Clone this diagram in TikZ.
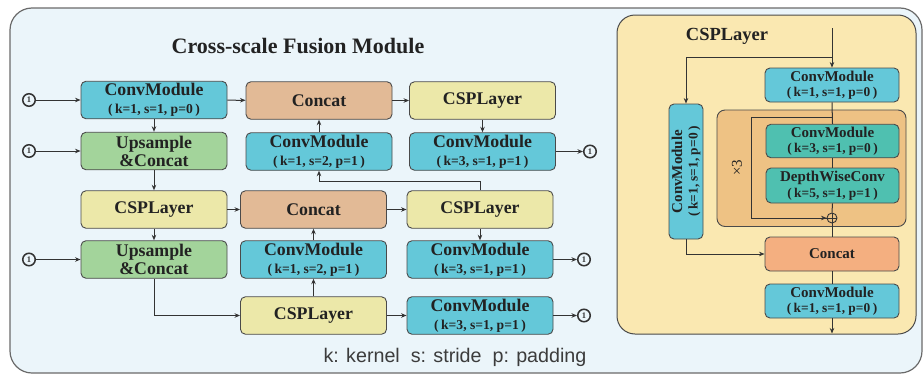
\documentclass[tikz,border=0pt]{standalone}
\usepackage{fontspec}
\setmainfont{Liberation Serif}
\newfontfamily\capfont{Liberation Sans}
\usetikzlibrary{arrows.meta}
\definecolor{bgblue}{HTML}{EBF5FA}
\definecolor{framegray}{HTML}{6A6A6A}
\definecolor{bordergray}{HTML}{4A4A4A}
\definecolor{linegray}{HTML}{333333}
\definecolor{txt}{HTML}{222222}
\definecolor{cyanbox}{HTML}{64C8D9}
\definecolor{greenbox}{HTML}{A3D49B}
\definecolor{yellowbox}{HTML}{ECE8A9}
\definecolor{tanbox}{HTML}{E2BA96}
\definecolor{panelyellow}{HTML}{FAE8B1}
\definecolor{orangeblock}{HTML}{EEC284}
\definecolor{tealbox}{HTML}{4FC0B0}
\definecolor{salmonbox}{HTML}{F4AF80}
\definecolor{captxt}{HTML}{3C3C3C}
\newcommand{\prm}[1]{{\fontsize{13.6}{18}\selectfont(\hspace{2.5pt}#1\hspace{2.5pt})}}
\newcommand{\prms}[1]{{\fontsize{13.4}{15.5}\selectfont(\hspace{2.5pt}#1\hspace{2.5pt})}}
\tikzset{
  basebox/.style={draw=bordergray, line width=0.9pt, rounded corners=5pt, align=center,
    inner sep=0pt, text=txt, minimum width=146pt, minimum height=37.5pt,
    font=\bfseries\fontsize{17.8}{18}\selectfont},
  convbox/.style={basebox, fill=cyanbox},
  upsbox/.style={basebox, fill=greenbox},
  cspbox/.style={basebox, fill=yellowbox},
  catbox/.style={basebox, fill=tanbox},
  rbox/.style={draw=bordergray, line width=0.9pt, rounded corners=5pt, align=center,
    inner sep=0pt, text=txt, minimum width=134pt, minimum height=34pt,
    font=\bfseries\fontsize{15}{15.5}\selectfont},
  iocirc/.style={circle, draw=linegray, line width=1.5pt, inner sep=0pt, minimum size=12.5pt,
    font=\bfseries\fontsize{8.5}{8.5}\selectfont, text=linegray},
  conn/.style={draw=linegray, line width=1pt},
  arr/.style={conn, -{Stealth[length=5.5pt,width=4.5pt]}},
}
\begin{document}
\begin{tikzpicture}[x=1pt,y=-1pt]
\useasboundingbox (0,0) rectangle (924,375);
% outer frame
\draw[fill=bgblue, draw=framegray, line width=1.2pt, rounded corners=22pt] (10,8) rectangle (922,373);
% right panel
\draw[fill=panelyellow, draw=bordergray, line width=1pt, rounded corners=18pt] (617,15) rectangle (916,334);

% title
\node[font=\bfseries\fontsize{22}{24}\selectfont, text=txt] (title) at (298,46) {Cross-scale Fusion Module};

% left column
\node[convbox] (cm1) at (154,100) {ConvModule\\\prm{k=1, s=1, p=0}};
\node[upsbox] (up1) at (154,151) {Upsample\\\&Concat};
\node[cspbox] (csp1) at (154,209.5) {CSPLayer};
\node[upsbox] (up2) at (154,259.5) {Upsample\\\&Concat};

% second column top
\node[catbox] (cat1) at (319,100.5) {Concat};
\node[convbox] (cm2) at (319,151.5) {ConvModule\\\prm{k=1, s=2, p=1}};
% second column lower
\node[catbox] (cat2) at (313.5,209.5) {Concat};
\node[convbox] (cm3) at (313.5,259.5) {ConvModule\\\prm{k=1, s=2, p=1}};
\node[cspbox] (csp3) at (313.5,315.5) {CSPLayer};

% third column
\node[cspbox] (csp2) at (482.5,100.5) {CSPLayer};
\node[convbox] (cm4) at (482.5,151.5) {ConvModule\\\prm{k=3, s=1, p=1}};
\node[cspbox] (csp4) at (480,209.5) {CSPLayer};
\node[convbox] (cm5) at (480,259.5) {ConvModule\\\prm{k=3, s=1, p=1}};
\node[convbox] (cm6) at (480,315.5) {ConvModule\\\prm{k=3, s=1, p=1}};

% inputs / outputs
\node[iocirc] (in1) at (29,100) {1};
\node[iocirc] (in2) at (29,151) {1};
\node[iocirc] (in3) at (29,259.5) {1};
\node[iocirc] (out1) at (590,151.5) {1};
\node[iocirc] (out2) at (584,259.5) {1};
\node[iocirc] (out3) at (584,315.5) {1};

% caption
\node[font=\capfont\fontsize{19.7}{21}\selectfont, text=captxt] (cap) at (455,357) {k: kernel\ \ s: stride\ \ p: padding};

% left connectors
\draw[arr] (in1) -- (cm1);
\draw[arr] (in2) -- (up1);
\draw[arr] (in3) -- (up2);
\draw[arr] (cm1) -- (cat1);
\draw[arr] (cm1) -- (up1);
\draw[arr] (up1) -- (csp1);
\draw[arr] (csp1) -- (cat2);
\draw[arr] (csp1) -- (up2);
\draw[arr] (up2.south) |- (csp3.west);
\draw[arr] (csp3) -- (cm3);
\draw[arr] (cm3) -- (cat2);
\draw[arr] (csp3) -- (cm6);
\draw[arr] (cm6) -- (out3);
\draw[arr] (cat2) -- (csp4);
\draw[arr] (csp4) -- (cm5);
\draw[arr] (cm5) -- (out2);
\coordinate (bend) at (480,181);
\draw[arr] (csp4.north) -- (bend) -| (cm2.south);
\draw[arr] (cm2) -- (cat1);
\draw[arr] (cat1) -- (csp2);
\draw[arr] (csp2) -- (cm4);
\draw[arr] (cm4) -- (out1);

% right panel
\node[font=\bfseries\fontsize{18.5}{20}\selectfont, text=txt] (rtitle) at (727,36) {CSPLayer};
\node[rbox, fill=cyanbox] (rcm1) at (832,85) {ConvModule\\\prms{k=1, s=1, p=0}};
\node[rbox, fill=cyanbox, minimum width=135pt, minimum height=34pt, rotate=90] (vcm) at (686,171.5) {ConvModule\\\prms{k=1, s=1, p=0}};
\draw[fill=orangeblock, draw=bordergray, line width=0.9pt, rounded corners=8pt] (717,110) rectangle (906,226.5);
\node[rotate=90, font=\fontsize{15}{15}\selectfont, text=txt] (x3) at (737,168) {×3};
\node[rbox, fill=tealbox, minimum width=133pt, minimum height=33.5pt] (rcm2) at (832.5,141) {ConvModule\\\prms{k=3, s=1, p=0}};
\node[rbox, fill=tealbox, minimum width=133pt, minimum height=35pt] (dwc) at (832.5,185.5) {DepthWiseConv\\\prms{k=5, s=1, p=1}};
\node[circle, draw=linegray, line width=0.9pt, fill=orangeblock, minimum size=10pt, inner sep=0pt] (plus) at (832,218) {};
\draw[linegray, line width=0.8pt] (plus.north) -- (plus.south) (plus.west) -- (plus.east);
\node[rbox, fill=salmonbox] (rcat) at (832,254) {Concat};
\node[rbox, fill=cyanbox] (rcm3) at (832,301) {ConvModule\\\prms{k=1, s=1, p=0}};

\coordinate (rin) at (832,28);
\coordinate (rsplit) at (832,57);
\coordinate (byp) at (832,117);
\coordinate (bypl) at (751,117);
\coordinate (rout) at (832,333.5);

\draw[arr] (rin) -- (rcm1.north);
\draw[arr] (rsplit) -| (vcm.east);
\draw[conn] (rcm1.south) -- (rcm2.north);
\draw[conn] (byp) -- (bypl) |- (plus.west);
\draw[arr] (bypl |- plus) -- (plus.west);
\draw[conn] (rcm2.south) -- (dwc.north);
\draw[conn] (dwc.south) -- (plus.north);
\draw[conn] (plus.south) -- (rcat.north);
\draw[arr] (vcm.west) |- (rcat.west);
\draw[conn] (rcat.south) -- (rcm3.north);
\draw[arr] (rcm3.south) -- (rout);
\end{tikzpicture}
\end{document}
